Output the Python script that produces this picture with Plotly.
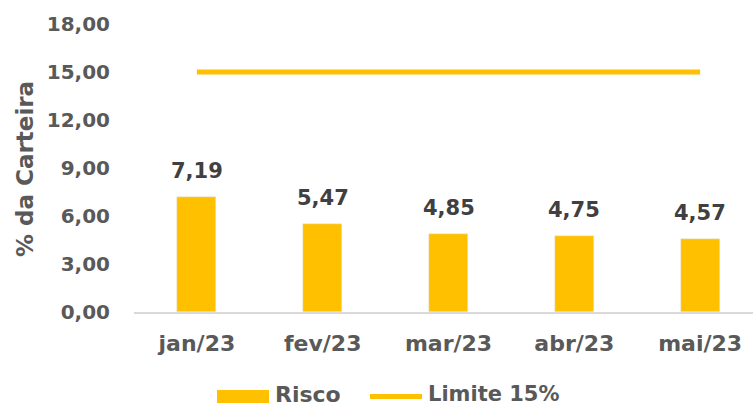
import plotly.graph_objects as go

categories = ["jan/23", "fev/23", "mar/23", "abr/23", "mai/23"]
risco = [7.19, 5.47, 4.85, 4.75, 4.57]
limite = [15, 15, 15, 15, 15]
y_ticks = [0, 3, 6, 9, 12, 15, 18]

GOLD = "#FFC000"
GREY = "#595959"
DARK = "#404040"
FONT = "DejaVu Sans"

W, H = 753, 407
ML, MR, MT, MB = 134, 0, 24, 95
PW, PH = W - ML - MR, H - MT - MB

def px(x):
    return (x - ML) / PW

def py(y):
    return (H - MB - y) / PH

fig = go.Figure()
fig.add_trace(go.Bar(
    x=categories, y=risco, name="Risco", marker_color=GOLD, width=0.31,
    cliponaxis=False,
))
fig.add_trace(go.Scatter(
    x=categories, y=limite, name="Limite 15%", mode="lines",
    line=dict(color=GOLD, width=5),
))

# data labels above bars
for c, v in zip(categories, risco):
    fig.add_annotation(
        x=c, y=v, text=f"{v:.2f}".replace(".", ","), showarrow=False,
        xanchor="center", yanchor="bottom", yshift=12,
        font=dict(family=FONT, size=21, color=DARK, weight=700),
    )

fig.update_layout(
    width=W, height=H,
    margin=dict(l=ML, r=MR, t=MT, b=MB),
    plot_bgcolor="white", paper_bgcolor="white",
    separators=",.",
    showlegend=False,
    font=dict(family=FONT, size=20, color=GREY, weight=700),
    xaxis=dict(
        range=[-0.5, 4.42], showline=True, linecolor="#D9D9D9", linewidth=1.5,
        showgrid=False, ticks="", ticklabelstandoff=11,
        tickfont=dict(family=FONT, size=22, color=GREY, weight=700),
    ),
    yaxis=dict(
        range=[0, 18], tickvals=y_ticks, tickformat=".2f", showgrid=False,
        zeroline=False, showline=False, ticks="", ticklabelstandoff=23,
        tickfont=dict(family=FONT, size=20, color=GREY, weight=700),
    ),
    bargap=0,
)

# y-axis title
fig.add_annotation(
    text="% da Carteira", xref="paper", yref="paper", x=px(25), y=py(169),
    textangle=-90, showarrow=False, xanchor="center", yanchor="middle",
    font=dict(family=FONT, size=23, color=GREY, weight=700),
)

# custom legend
ly = 394
fig.add_shape(type="rect", xref="paper", yref="paper",
              x0=px(217), x1=px(269), y0=py(390), y1=py(403),
              fillcolor=GOLD, line_width=0)
fig.add_annotation(text="Risco", xref="paper", yref="paper", x=px(273), y=py(ly),
                   showarrow=False, xanchor="left", yanchor="middle",
                   font=dict(family=FONT, size=22, color=GREY, weight=700))
fig.add_shape(type="line", xref="paper", yref="paper",
              x0=px(370), x1=px(422), y0=py(396.5), y1=py(396.5),
              line=dict(color=GOLD, width=5))
fig.add_annotation(text="Limite 15%", xref="paper", yref="paper", x=px(426), y=py(ly),
                   showarrow=False, xanchor="left", yanchor="middle",
                   font=dict(family=FONT, size=21, color=GREY, weight=700))

fig.write_html("out.html", config={"displayModeBar": False})
with open("out.html", encoding="utf-8") as f:
    html = f.read()
html = html.replace("<head>", "<head><style>html,body{margin:0;padding:0;overflow:hidden;}</style>", 1)
with open("out.html", "w", encoding="utf-8") as f:
    f.write(html)
